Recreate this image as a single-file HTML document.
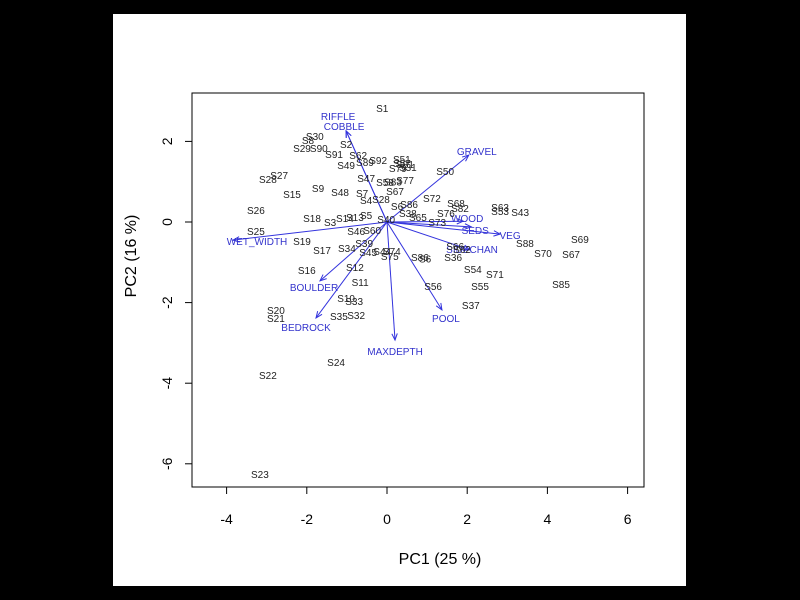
<!DOCTYPE html>
<html><head><meta charset="utf-8"><style>
html,body{margin:0;padding:0;background:#000;width:800px;height:600px;overflow:hidden}
svg{display:block}
</style></head><body>
<svg id="chart" width="800" height="600" xmlns="http://www.w3.org/2000/svg" font-family="Liberation Sans, sans-serif">
<rect x="0" y="0" width="800" height="600" fill="#000"/>
<rect x="113" y="14" width="573" height="572" fill="#fff"/>
<rect x="192" y="93" width="452" height="394" fill="none" stroke="#000" stroke-width="1"/>
<g id="xticks"></g><g id="yticks"></g><g id="arrows"></g><g id="pts"></g>
<text x="440" y="564" text-anchor="middle" font-size="16" fill="#000">PC1 (25 %)</text>
<text x="0" y="0" transform="translate(136,256) rotate(-90)" text-anchor="middle" font-size="16" fill="#000">PC2 (16 %)</text>
</svg>
<script>
const xTicks=[-4,-2,0,2,4,6];
const yTicks=[-6,-4,-2,0,2];
const sampleLabels=["S1","S30","S8","S29","S90","S2","S91","S62","S49","S89","S92","S81","S51","S57","S79","S31","S47","S58","S83","S77","S67","S7","S4","S28","S6","S86","S72","S68","S82","S76","S38","S65","S40","S73","S50","S15","S9","S48","S27","S28","S26","S25","S19","S18","S3","S14","S13","S5","S46","S60","S17","S34","S39","S45","S44","S74","S75","S16","S12","S11","S10","S33","S35","S32","S20","S21","S22","S23","S24","S86","S6","S36","S66","S62","S54","S71","S55","S56","S37","S63","S53","S43","S88","S70","S69","S67","S85"];
const sampleX=[-0.12,-1.8,-1.97,-2.12,-1.7,-1.02,-1.32,-0.72,-1.02,-0.55,-0.22,0.45,0.37,0.37,0.27,0.52,-0.52,-0.05,0.15,0.45,0.2,-0.62,-0.52,-0.15,0.25,0.55,1.12,1.72,1.82,1.47,0.52,0.77,-0.02,1.25,1.45,-2.37,-1.72,-1.17,-2.69,-2.97,-3.27,-3.27,-2.12,-1.87,-1.42,-1.05,-0.8,-0.52,-0.77,-0.37,-1.62,-1.0,-0.57,-0.47,-0.12,0.12,0.07,-2.0,-0.8,-0.67,-1.02,-0.82,-1.2,-0.77,-2.77,-2.77,-2.97,-3.17,-1.27,0.82,0.95,1.65,1.7,1.87,2.14,2.69,2.32,1.15,2.09,2.82,2.82,3.32,3.44,3.89,4.81,4.59,4.34];
const sampleY=[2.83,2.13,2.03,1.84,1.84,1.94,1.69,1.66,1.41,1.49,1.54,1.44,1.56,1.46,1.34,1.36,1.09,0.99,1.01,1.04,0.77,0.72,0.55,0.57,0.4,0.45,0.6,0.47,0.35,0.22,0.22,0.12,0.07,0.0,1.27,0.69,0.84,0.74,1.17,1.07,0.3,-0.22,-0.47,0.1,0.0,0.1,0.12,0.17,-0.22,-0.2,-0.69,-0.65,-0.52,-0.74,-0.72,-0.72,-0.84,-1.19,-1.12,-1.49,-1.89,-1.96,-2.33,-2.31,-2.18,-2.38,-3.8,-6.25,-3.47,-0.87,-0.9,-0.87,-0.6,-0.67,-1.17,-1.29,-1.59,-1.59,-2.06,0.37,0.27,0.25,-0.52,-0.77,-0.42,-0.79,-1.54];
const varNames=["RIFFLE","COBBLE","GRAVEL","WOOD","SEDS","VEG","SIDECHAN","WET_WIDTH","BOULDER","BEDROCK","MAXDEPTH","POOL"];
const varX=[-1.02,-1.02,2.04,1.9,2.1,2.82,2.07,-3.84,-1.67,-1.77,0.2,1.37];
const varY=[2.26,2.26,1.66,0.02,-0.12,-0.3,-0.69,-0.45,-1.46,-2.38,-2.93,-2.18];
const labelDx=[-8,-2,8,4,4,10,2,24,-6,-10,0,4];
const labelDy=[-14,-4,-3,-2,4,2,0,2,7,10,12,9];
const sx=v=>387+v*40.1, sy=v=>222-v*40.3;
const NS="http://www.w3.org/2000/svg";
function mk(t,a,p){const e=document.createElementNS(NS,t);for(const k in a)e.setAttribute(k,a[k]);p.appendChild(e);return e;}
const gx=document.getElementById('xticks');
mk('line',{x1:sx(-4),x2:sx(6),y1:487,y2:487,stroke:'#000'},gx);
xTicks.forEach(v=>{mk('line',{x1:sx(v),x2:sx(v),y1:487,y2:494,stroke:'#000'},gx);
 const t=mk('text',{x:sx(v),y:524,'text-anchor':'middle','font-size':14,fill:'#000'},gx);t.textContent=v;
 
 });
const gy=document.getElementById('yticks');
yTicks.forEach(v=>{mk('line',{x1:185,x2:192,y1:sy(v),y2:sy(v),stroke:'#000'},gy);
 const t=mk('text',{x:0,y:0,transform:`translate(172,${sy(v)}) rotate(-90)`,'text-anchor':'middle','font-size':14,fill:'#000'},gy);t.textContent=v;
 
 });
const ga=document.getElementById('arrows');
varNames.forEach((n,i)=>{
 const x2=sx(varX[i]),y2=sy(varY[i]),x1=sx(0),y1=sy(0);
 const l=mk('line',{x1,y1,x2,y2,stroke:'#3333dd','stroke-width':1},ga);
 
 
 const a=Math.atan2(y2-y1,x2-x1),h=7;
 const p=mk('path',{d:`M${x2-h*Math.cos(a-0.4)},${y2-h*Math.sin(a-0.4)}L${x2},${y2}L${x2-h*Math.cos(a+0.4)},${y2-h*Math.sin(a+0.4)}`,fill:'none',stroke:'#3333dd'},ga);
 
 
 const t=mk('text',{x:x2+labelDx[i],y:y2+labelDy[i]+3,'text-anchor':'middle','font-size':10,fill:'#3333cc'},ga);t.textContent=n;
 
 
});
const gp=document.getElementById('pts');
sampleLabels.forEach((n,i)=>{
 const t=mk('text',{x:sx(sampleX[i]),y:sy(sampleY[i])+4,'text-anchor':'middle','font-size':10,fill:'#222'},gp);t.textContent=n;
 
 
});
</script>
</body></html>
